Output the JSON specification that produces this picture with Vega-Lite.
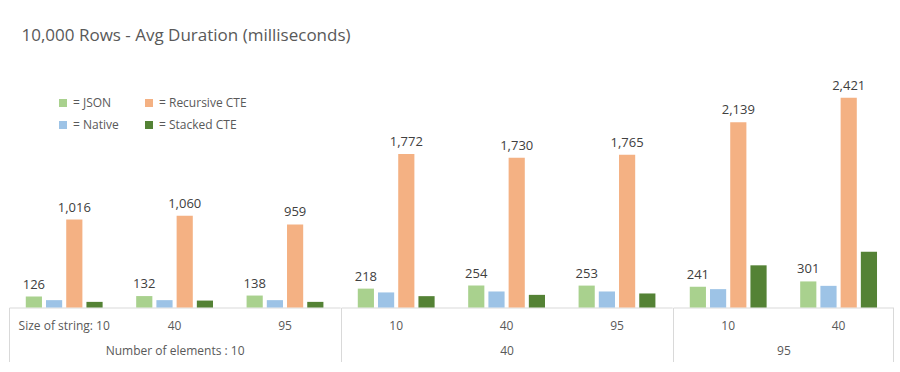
{
  "$schema": "https://vega.github.io/schema/vega-lite/v6.json",
  "padding": {"left": 8, "top": 27, "right": 0, "bottom": 0},
  "background": "white",
  "title": {"text": "10,000 Rows - Avg Duration (milliseconds)", "anchor": "start", "dx": 13, "offset": 20, "fontSize": 17, "fontWeight": "normal", "color": "#595959"},
  "data": {"values": [
    {"elements": "10", "size": "10", "method": "JSON", "ms": 126},
    {"elements": "10", "size": "10", "method": "Native", "ms": 85},
    {"elements": "10", "size": "10", "method": "Recursive CTE", "ms": 1016},
    {"elements": "10", "size": "10", "method": "Stacked CTE", "ms": 65},
    {"elements": "10", "size": "40", "method": "JSON", "ms": 132},
    {"elements": "10", "size": "40", "method": "Native", "ms": 85},
    {"elements": "10", "size": "40", "method": "Recursive CTE", "ms": 1060},
    {"elements": "10", "size": "40", "method": "Stacked CTE", "ms": 80},
    {"elements": "10", "size": "95", "method": "JSON", "ms": 138},
    {"elements": "10", "size": "95", "method": "Native", "ms": 85},
    {"elements": "10", "size": "95", "method": "Recursive CTE", "ms": 959},
    {"elements": "10", "size": "95", "method": "Stacked CTE", "ms": 65},
    {"elements": "40", "size": "10", "method": "JSON", "ms": 218},
    {"elements": "40", "size": "10", "method": "Native", "ms": 174},
    {"elements": "40", "size": "10", "method": "Recursive CTE", "ms": 1772},
    {"elements": "40", "size": "10", "method": "Stacked CTE", "ms": 131},
    {"elements": "40", "size": "40", "method": "JSON", "ms": 254},
    {"elements": "40", "size": "40", "method": "Native", "ms": 185},
    {"elements": "40", "size": "40", "method": "Recursive CTE", "ms": 1730},
    {"elements": "40", "size": "40", "method": "Stacked CTE", "ms": 146},
    {"elements": "40", "size": "95", "method": "JSON", "ms": 253},
    {"elements": "40", "size": "95", "method": "Native", "ms": 185},
    {"elements": "40", "size": "95", "method": "Recursive CTE", "ms": 1765},
    {"elements": "40", "size": "95", "method": "Stacked CTE", "ms": 162},
    {"elements": "95", "size": "10", "method": "JSON", "ms": 241},
    {"elements": "95", "size": "10", "method": "Native", "ms": 212},
    {"elements": "95", "size": "10", "method": "Recursive CTE", "ms": 2139},
    {"elements": "95", "size": "10", "method": "Stacked CTE", "ms": 487},
    {"elements": "95", "size": "40", "method": "JSON", "ms": 301},
    {"elements": "95", "size": "40", "method": "Native", "ms": 250},
    {"elements": "95", "size": "40", "method": "Recursive CTE", "ms": 2421},
    {"elements": "95", "size": "40", "method": "Stacked CTE", "ms": 644}
  ]},
  "spacing": 0,
  "bounds": "flush",
  "hconcat": [
    {
      "width": 331.2, "height": 242.5,
      "transform": [{"filter": "datum.elements === '10'"}],
      "layer": [
        {
          "mark": {"type": "bar"},
          "encoding": {
            "x": {"field": "size", "type": "nominal", "sort": ["10", "40", "95"], "scale": {"paddingInner": 0, "paddingOuter": 0},
              "axis": {"orient": "bottom", "ticks": false, "tickSize": 0, "labelPadding": 13, "labelFontSize": 12, "labelColor": "#595959", "labelAngle": 0, "domainColor": "#d9d9d9", "labelExpr": "datum.value === '10' ? 'Size of string: 10' : datum.value", "title": "Number of elements : 10", "titleFontSize": 12, "titleFontWeight": "normal", "titleColor": "#595959", "titlePadding": 14}},
            "xOffset": {"field": "method", "type": "nominal", "scale": {"domain": ["JSON", "Native", "Recursive CTE", "Stacked CTE"], "paddingInner": 0.2, "paddingOuter": 0.83}},
            "y": {"field": "ms", "type": "quantitative", "scale": {"domain": [0, 2800]}, "axis": null},
            "color": {"field": "method", "type": "nominal", "scale": {"domain": ["JSON", "Native", "Recursive CTE", "Stacked CTE"], "range": ["#A9D18E", "#9DC3E6", "#F4B183", "#548235"]},
              "legend": {"orient": "none", "legendX": 48, "legendY": 32, "columns": 2, "symbolType": "square", "symbolSize": 64, "symbolStrokeWidth": 0, "labelFontSize": 12, "labelColor": "#595959", "labelOffset": 4, "columnPadding": 24, "rowPadding": 10, "padding": 0, "title": null, "labelExpr": "'= ' + datum.label"}}
          }
        },
        {
          "transform": [{"filter": "datum.method === 'JSON' || datum.method === 'Recursive CTE'"}],
          "mark": {"type": "text", "baseline": "bottom", "dy": -5, "fontSize": 13, "color": "#404040"},
          "encoding": {
            "x": {"field": "size", "type": "nominal", "sort": ["10", "40", "95"], "scale": {"paddingInner": 0, "paddingOuter": 0},
              "axis": {"orient": "bottom", "values": ["10"], "bandPosition": 0, "ticks": true, "tickSize": 54, "tickColor": "#d9d9d9", "labels": false, "domain": false, "grid": false, "title": null}},
            "xOffset": {"field": "method", "type": "nominal"},
            "y": {"field": "ms", "type": "quantitative"},
            "text": {"field": "ms", "type": "quantitative", "format": ","}
          }
        }
      ],
      "resolve": {"axis": {"x": "independent"}}
    },
    {
      "width": 331.2, "height": 242.5,
      "transform": [{"filter": "datum.elements === '40'"}],
      "layer": [
        {
          "mark": {"type": "bar"},
          "encoding": {
            "x": {"field": "size", "type": "nominal", "sort": ["10", "40", "95"], "scale": {"paddingInner": 0, "paddingOuter": 0},
              "axis": {"orient": "bottom", "ticks": false, "tickSize": 0, "labelPadding": 13, "labelFontSize": 12, "labelColor": "#595959", "labelAngle": 0, "domainColor": "#d9d9d9", "title": "40", "titleFontSize": 12, "titleFontWeight": "normal", "titleColor": "#595959", "titlePadding": 14}},
            "xOffset": {"field": "method", "type": "nominal", "scale": {"domain": ["JSON", "Native", "Recursive CTE", "Stacked CTE"], "paddingInner": 0.2, "paddingOuter": 0.83}},
            "y": {"field": "ms", "type": "quantitative", "scale": {"domain": [0, 2800]}, "axis": null},
            "color": {"field": "method", "type": "nominal", "scale": {"domain": ["JSON", "Native", "Recursive CTE", "Stacked CTE"], "range": ["#A9D18E", "#9DC3E6", "#F4B183", "#548235"]},
              "legend": {"orient": "none", "legendX": 48, "legendY": 32, "columns": 2, "symbolType": "square", "symbolSize": 64, "symbolStrokeWidth": 0, "labelFontSize": 12, "labelColor": "#595959", "labelOffset": 4, "columnPadding": 24, "rowPadding": 10, "padding": 0, "title": null, "labelExpr": "'= ' + datum.label"}}
          }
        },
        {
          "transform": [{"filter": "datum.method === 'JSON' || datum.method === 'Recursive CTE'"}],
          "mark": {"type": "text", "baseline": "bottom", "dy": -5, "fontSize": 13, "color": "#404040"},
          "encoding": {
            "x": {"field": "size", "type": "nominal", "sort": ["10", "40", "95"], "scale": {"paddingInner": 0, "paddingOuter": 0},
              "axis": {"orient": "bottom", "values": ["10"], "bandPosition": 0, "ticks": true, "tickSize": 54, "tickColor": "#d9d9d9", "labels": false, "domain": false, "grid": false, "title": null}},
            "xOffset": {"field": "method", "type": "nominal"},
            "y": {"field": "ms", "type": "quantitative"},
            "text": {"field": "ms", "type": "quantitative", "format": ","}
          }
        }
      ],
      "resolve": {"axis": {"x": "independent"}}
    },
    {
      "width": 220.8, "height": 242.5,
      "transform": [{"filter": "datum.elements === '95'"}],
      "layer": [
        {
          "mark": {"type": "bar"},
          "encoding": {
            "x": {"field": "size", "type": "nominal", "sort": ["10", "40"], "scale": {"paddingInner": 0, "paddingOuter": 0},
              "axis": {"orient": "bottom", "ticks": false, "tickSize": 0, "labelPadding": 13, "labelFontSize": 12, "labelColor": "#595959", "labelAngle": 0, "domainColor": "#d9d9d9", "title": "95", "titleFontSize": 12, "titleFontWeight": "normal", "titleColor": "#595959", "titlePadding": 14}},
            "xOffset": {"field": "method", "type": "nominal", "scale": {"domain": ["JSON", "Native", "Recursive CTE", "Stacked CTE"], "paddingInner": 0.2, "paddingOuter": 0.83}},
            "y": {"field": "ms", "type": "quantitative", "scale": {"domain": [0, 2800]}, "axis": null},
            "color": {"field": "method", "type": "nominal", "scale": {"domain": ["JSON", "Native", "Recursive CTE", "Stacked CTE"], "range": ["#A9D18E", "#9DC3E6", "#F4B183", "#548235"]},
              "legend": {"orient": "none", "legendX": 48, "legendY": 32, "columns": 2, "symbolType": "square", "symbolSize": 64, "symbolStrokeWidth": 0, "labelFontSize": 12, "labelColor": "#595959", "labelOffset": 4, "columnPadding": 24, "rowPadding": 10, "padding": 0, "title": null, "labelExpr": "'= ' + datum.label"}}
          }
        },
        {
          "transform": [{"filter": "datum.method === 'JSON' || datum.method === 'Recursive CTE'"}],
          "mark": {"type": "text", "baseline": "bottom", "dy": -5, "fontSize": 13, "color": "#404040"},
          "encoding": {
            "x": {"field": "size", "type": "nominal", "sort": ["10", "40"], "scale": {"paddingInner": 0, "paddingOuter": 0},
              "axis": {"orient": "bottom", "values": ["10"], "bandPosition": 0, "ticks": true, "tickSize": 54, "tickColor": "#d9d9d9", "labels": false, "domain": false, "grid": false, "title": null}},
            "xOffset": {"field": "method", "type": "nominal"},
            "y": {"field": "ms", "type": "quantitative"},
            "text": {"field": "ms", "type": "quantitative", "format": ","}
          }
        },
        {
          "mark": {"type": "bar", "opacity": 0},
          "encoding": {
            "x": {"field": "size", "type": "nominal", "sort": ["10", "40"], "scale": {"paddingInner": 0, "paddingOuter": 0},
              "axis": {"orient": "bottom", "values": ["40"], "bandPosition": 1, "ticks": true, "tickSize": 54, "tickColor": "#d9d9d9", "labels": false, "domain": false, "grid": false, "title": null}},
            "xOffset": {"field": "method", "type": "nominal"},
            "y": {"field": "ms", "type": "quantitative"}
          }
        }
      ],
      "resolve": {"axis": {"x": "independent"}}
    }
  ],
  "config": {"font": "Open Sans", "view": {"stroke": null}}
}
